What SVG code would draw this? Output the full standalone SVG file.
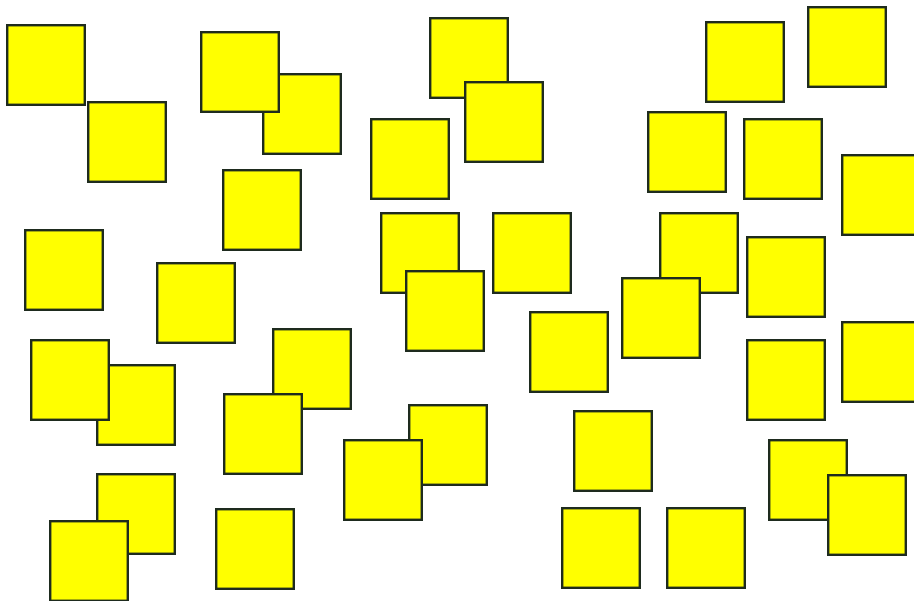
<svg xmlns="http://www.w3.org/2000/svg" width="914" height="601" viewBox="0 0 914 601">
<style>
.sq{fill:#ffff00;stroke:#1e2b1e;stroke-width:2.4}
</style>
<defs><rect id="s" class="sq" x="1.2" y="1.2" width="77.6" height="79.6"/></defs>
<rect width="914" height="601" fill="#ffffff"/>
<g id="squares">
<use href="#s" x="6" y="24"/>
<use href="#s" x="87" y="101"/>
<use href="#s" x="262" y="73"/>
<use href="#s" x="200" y="31"/>
<use href="#s" x="429" y="17"/>
<use href="#s" x="464" y="81"/>
<use href="#s" x="370" y="118"/>
<use href="#s" x="705" y="21"/>
<use href="#s" x="807" y="6"/>
<use href="#s" x="647" y="111"/>
<use href="#s" x="743" y="118"/>
<use href="#s" x="841" y="154"/>
<use href="#s" x="222" y="169"/>
<use href="#s" x="24" y="229"/>
<use href="#s" x="156" y="262"/>
<use href="#s" x="380" y="212"/>
<use href="#s" x="405" y="270"/>
<use href="#s" x="492" y="212"/>
<use href="#s" x="659" y="212"/>
<use href="#s" x="621" y="277"/>
<use href="#s" x="746" y="236"/>
<use href="#s" x="529" y="311"/>
<use href="#s" x="841" y="321"/>
<use href="#s" x="746" y="339"/>
<use href="#s" x="272" y="328"/>
<use href="#s" x="96" y="364"/>
<use href="#s" x="30" y="339"/>
<use href="#s" x="223" y="393"/>
<use href="#s" x="408" y="404"/>
<use href="#s" x="343" y="439"/>
<use href="#s" x="573" y="410"/>
<use href="#s" x="768" y="439"/>
<use href="#s" x="827" y="474"/>
<use href="#s" x="96" y="473"/>
<use href="#s" x="49" y="520"/>
<use href="#s" x="215" y="508"/>
<use href="#s" x="561" y="507"/>
<use href="#s" x="666" y="507"/>
</g>
</svg>
